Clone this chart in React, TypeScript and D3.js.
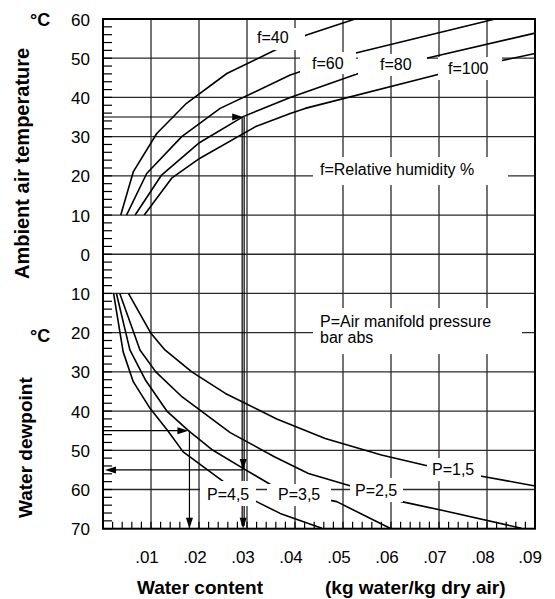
import React from 'react';
import * as d3 from 'd3';

// ---- Axis ticks ----
const yTickValues = [60, 50, 40, 30, 20, 10, 0, -10, -20, -30, -40, -50, -60, -70];
const yTickLabels = ['60', '50', '40', '30', '20', '10', '0', '10', '20', '30', '40', '50', '60', '70'];
const xTickValues = [0.01, 0.02, 0.03, 0.04, 0.05, 0.06, 0.07, 0.08, 0.09];
const xTickLabels = ['.01', '.02', '.03', '.04', '.05', '.06', '.07', '.08', '.09'];

// ---- Relative humidity curves: water content (kg/kg) vs ambient temperature (°C) ----
const f40X = [0.0037, 0.0063, 0.0112, 0.0174, 0.0258, 0.0362, 0.0424, 0.0525];
const f40T = [10, 21, 30.8, 38.5, 46.1, 52.3, 55.9, 60];
const f60X = [0.0049, 0.0091, 0.0164, 0.0244, 0.039, 0.0529, 0.0817];
const f60T = [10, 20.6, 30, 37.2, 45.7, 51.4, 60];
const f80X = [0.0067, 0.0122, 0.0199, 0.0292, 0.039, 0.0532, 0.0674, 0.09];
const f80T = [10, 20.2, 28.3, 35.1, 40, 46.1, 50, 56.4];
const f100X = [0.0086, 0.0143, 0.0202, 0.0317, 0.039, 0.0421, 0.0706, 0.0831, 0.09];
const f100T = [10, 19.4, 24.5, 32.5, 35.9, 37.2, 46.1, 49.4, 51.2];

// ---- Manifold pressure curves: water content vs dewpoint (°C) ----
const p45X = [0.0022, 0.0042, 0.0063, 0.0098, 0.0135, 0.0167, 0.0251, 0.032, 0.0369, 0.0456];
const p45D = [10, 24.9, 32.5, 39.3, 45, 50.4, 58.0, 63.1, 66.1, 69.9];
const p35X = [0.0028, 0.0056, 0.0088, 0.0133, 0.0178, 0.0229, 0.0292, 0.0369, 0.0487, 0.0598];
const p35D = [10, 24.4, 32, 40, 45, 50, 54.6, 60.2, 63.1, 69.9];
const p25X = [0.0035, 0.0077, 0.011, 0.0165, 0.0265, 0.0358, 0.0428, 0.0511, 0.0622, 0.0706, 0.0872];
const p25D = [10, 24.4, 30, 36.4, 45.5, 51.7, 55.9, 58.9, 63.1, 65.3, 69.9];
const p15X = [0.0053, 0.0099, 0.0129, 0.0185, 0.0255, 0.0362, 0.0463, 0.058, 0.0671, 0.0789, 0.09];
const p15D = [10, 20, 24.4, 30, 35.5, 42, 47, 51.2, 53.8, 56.6, 59.1];

// ---- Worked example ----
const exampleTemp = 35;
const exampleWater = 0.0292;
const exampleDew = 55;
const example2Dew = 45;
const example2Water = 0.0178;

const FONT = '"Liberation Sans", Arial, Helvetica, sans-serif';

export default function App() {
  const W = 555;
  const H = 599;
  const x = d3.scaleLinear().domain([0, 0.09]).range([103, 535]);
  const y = d3.scaleLinear().domain([60, -70]).range([19, 528.7]);

  const line = d3
    .line<[number, number]>()
    .x((d) => x(d[0]))
    .y((d) => y(d[1]));

  const upper = [
    [f40X, f40T],
    [f60X, f60T],
    [f80X, f80T],
    [f100X, f100T],
  ].map(([xs, ts]) => xs.map((v, i) => [v, ts[i]] as [number, number]));
  const lower = [
    [p45X, p45D],
    [p35X, p35D],
    [p25X, p25D],
    [p15X, p15D],
  ].map(([xs, ds]) => xs.map((v, i) => [v, -ds[i]] as [number, number]));

  const x0 = x(0);
  const x1 = x(0.09);
  const y0 = y(60);
  const y1 = y(-70);

  // minor ticks
  const leftMinor = d3.range(60, -70.01, -2);
  const bottomMinor = d3.range(0.002, 0.0899, 0.002);

  // arrowhead
  const arrow = (tx: number, ty: number, dir: 'r' | 'l' | 'd', key: string) => {
    const L = 11;
    const h = 3.5;
    let pts: number[][] = [];
    if (dir === 'r') pts = [[tx, ty], [tx - L, ty - h], [tx - L, ty + h]];
    if (dir === 'l') pts = [[tx, ty], [tx + L, ty - h], [tx + L, ty + h]];
    if (dir === 'd') pts = [[tx, ty], [tx - h, ty - L], [tx + h, ty - L]];
    return <polygon key={key} points={pts.map((p) => p.join(',')).join(' ')} fill="#000" />;
  };

  const labels = [
    { t: 'f=40', tx: 257, ty: 43, b: [252, 28, 305, 50] },
    { t: 'f=60', tx: 312, ty: 68.5, b: [300, 52, 356, 74] },
    { t: 'f=80', tx: 380, ty: 70, b: [358, 54, 427, 76] },
    { t: 'f=100', tx: 448, ty: 74, b: [438, 57, 502, 80] },
    { t: 'f=Relative humidity %', tx: 320, ty: 175, b: [313, 157, 508, 185] },
    { t: 'P=4,5', tx: 207, ty: 499.5, b: [200, 481, 256, 506] },
    { t: 'P=3,5', tx: 278, ty: 499.5, b: [267, 484, 331, 506] },
    { t: 'P=2,5', tx: 355, ty: 496, b: [350, 478, 403, 502] },
    { t: 'P=1,5', tx: 432, ty: 474.5, b: [427, 458, 481, 481] },
  ];

  const exX = x(exampleWater);
  const ex2X = x(example2Water);

  return (
    <svg
      width={W}
      height={H}
      style={{ position: 'absolute', left: 0, top: 0, background: '#fff' }}
      fontFamily={FONT}
    >
      <rect x={0} y={0} width={W} height={H} fill="#fff" />
      {/* grid */}
      <g stroke="#2a2a2a" strokeWidth={1.3}>
        {yTickValues.slice(1, -1).map((v) => (
          <line key={'gy' + v} x1={x0} x2={x1} y1={y(v)} y2={y(v)} />
        ))}
        {xTickValues.slice(0, -1).map((v) => (
          <line key={'gx' + v} x1={x(v)} x2={x(v)} y1={y0} y2={y1} />
        ))}
      </g>
      {/* minor ticks */}
      <g stroke="#000" strokeWidth={1.2}>
        {leftMinor.map((v) => (
          <line key={'lm' + v} x1={x0} x2={x0 + 9} y1={y(v)} y2={y(v)} />
        ))}
        {bottomMinor.map((v) => (
          <line key={'bm' + v} x1={x(v)} x2={x(v)} y1={y1} y2={y1 - 7} />
        ))}
      </g>
      {/* curves */}
      <g fill="none" stroke="#000" strokeWidth={1.6} strokeLinejoin="round">
        {upper.map((d, i) => (
          <path key={'u' + i} d={line(d) || ''} />
        ))}
        {lower.map((d, i) => (
          <path key={'l' + i} d={line(d) || ''} />
        ))}
      </g>
      {/* worked example */}
      <g stroke="#000" strokeWidth={1.2} fill="none">
        <line x1={x0} x2={exX - 4} y1={y(exampleTemp)} y2={y(exampleTemp)} />
        <line x1={exX - 1} x2={exX - 1} y1={y(exampleTemp)} y2={y1 - 3} />
        <line x1={exX + 1} x2={exX + 1} y1={y(exampleTemp)} y2={y1 - 3} />
        <line x1={x0 + 5} x2={exX} y1={y(-exampleDew)} y2={y(-exampleDew)} />
        <line x1={x0} x2={ex2X - 4} y1={y(-example2Dew)} y2={y(-example2Dew)} />
        <line x1={ex2X + 1} x2={ex2X + 1} y1={y(-example2Dew)} y2={y1 - 3} />
      </g>
      {arrow(exX, y(exampleTemp), 'r', 'a1')}
      {arrow(exX, y(-exampleDew), 'd', 'a2')}
      {arrow(exX, y1, 'd', 'a3')}
      {arrow(x0 + 2, y(-exampleDew), 'l', 'a4')}
      {arrow(ex2X, y(-example2Dew), 'r', 'a5')}
      {arrow(ex2X + 1, y1, 'd', 'a6')}
      {/* labels with white boxes */}
      {labels.map((l) => (
        <g key={l.t}>
          <rect x={l.b[0]} y={l.b[1]} width={l.b[2] - l.b[0]} height={l.b[3] - l.b[1]} fill="#fff" />
          <text x={l.tx} y={l.ty} fontSize={16} fill="#000">
            {l.t}
          </text>
        </g>
      ))}
      <rect x={313} y={308} width={209} height={46} fill="#fff" />
      <text x={320} y={326.5} fontSize={16} fill="#000">
        P=Air manifold pressure
      </text>
      <text x={320} y={343} fontSize={16} fill="#000">
        bar abs
      </text>
      {/* frame */}
      <rect x={x0} y={y0} width={x1 - x0} height={y1 - y0} fill="none" stroke="#000" strokeWidth={2} />
      {/* y tick labels */}
      {yTickValues.map((v, i) => (
        <text key={'yt' + i} x={90} y={y(v) + 6.5} fontSize={17} textAnchor="end" fill="#000">
          {yTickLabels[i]}
        </text>
      ))}
      {/* x tick labels */}
      {xTickValues.map((v, i) => (
        <text
          key={'xt' + i}
          x={i === xTickValues.length - 1 ? x(v) + 7 : x(v) - 4}
          y={563}
          fontSize={17}
          textAnchor={i === xTickValues.length - 1 ? 'end' : 'middle'}
          fill="#000"
        >
          {xTickLabels[i]}
        </text>
      ))}
      {/* units & titles */}
      <text x={30} y={26} fontSize={18} fontWeight="bold">°C</text>
      <text x={30} y={341.7} fontSize={18} fontWeight="bold">°C</text>
      <text transform="translate(28.8,279) rotate(-90)" fontSize={20} fontWeight="bold">
        Ambient air temperature
      </text>
      <text transform="translate(32,518) rotate(-90)" fontSize={19} fontWeight="bold">
        Water dewpoint
      </text>
      <text x={137} y={594} fontSize={19} fontWeight="bold">Water content</text>
      <text x={325} y={594} fontSize={19} fontWeight="bold">(kg water/kg dry air)</text>
    </svg>
  );
}
